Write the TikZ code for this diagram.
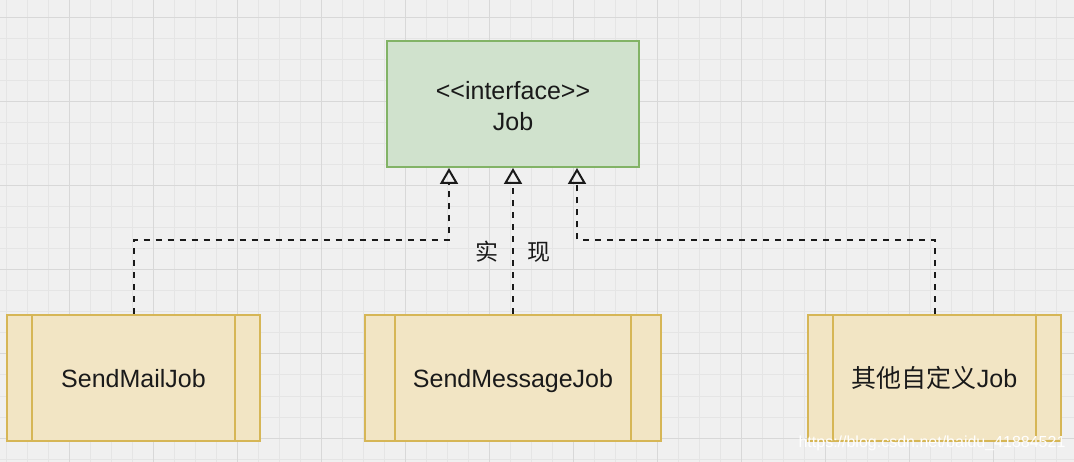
\documentclass[tikz,border=0pt]{standalone}
\usepackage{fontspec}
\setmainfont{Liberation Sans}[Ligatures=NoCommon]
\newfontfamily\cjk{Noto Sans CJK SC}
\usetikzlibrary{arrows.meta,calc}
\definecolor{bgc}{RGB}{240,240,240}
\definecolor{gridminor}{RGB}{229,229,229}
\definecolor{gridmajor}{RGB}{216,216,216}
\definecolor{ifill}{RGB}{208,226,205}
\definecolor{istroke}{RGB}{130,179,102}
\definecolor{pfill}{RGB}{242,229,196}
\definecolor{pstroke}{RGB}{214,182,86}
\definecolor{ink}{RGB}{26,26,26}
\tikzset{
  minorline/.style={gridminor, line width=1pt},
  majorline/.style={gridmajor, line width=1pt},
  ifacebox/.style={draw=istroke, fill=ifill, line width=2pt, minimum width=252pt, minimum height=126pt, inner sep=0pt, align=center, text=ink, font=\fontsize{25}{31}\selectfont},
  procbox/.style={draw=pstroke, fill=pfill, line width=2pt, minimum height=126pt, inner sep=0pt, text=ink, text height=20pt, text depth=0pt, font=\fontsize{25}{31}\selectfont,
    path picture={
      \draw[pstroke, line width=2pt]
        ($(path picture bounding box.north west)!0.1!(path picture bounding box.north east)$) --
        ($(path picture bounding box.south west)!0.1!(path picture bounding box.south east)$)
        ($(path picture bounding box.north west)!0.9!(path picture bounding box.north east)$) --
        ($(path picture bounding box.south west)!0.9!(path picture bounding box.south east)$);
    }},
  realize/.style={ink, line width=2pt, dash pattern=on 6pt off 6pt, -{Triangle[open, length=16pt, width=18pt, line width=2pt]}},
  lbl/.style={text=ink, inner sep=0pt, font=\fontsize{23}{28}\selectfont\cjk},
  wmark/.style={text=white, inner sep=0pt, font=\fontsize{16}{19}\selectfont}
}
\begin{document}
\begin{tikzpicture}[x=1pt, y=-1pt]
\useasboundingbox (0,0) rectangle (1074,462);
\fill[bgc] (0,0) rectangle (1074,462);
\foreach \x in {6,27,...,1074} \draw[minorline] (\x,0) -- (\x,462);
\foreach \y in {18,39,...,462} \draw[minorline] (0,\y) -- (1074,\y);
\foreach \x in {69,153,...,1074} \draw[majorline] (\x,0) -- (\x,462);
\foreach \y in {18,102,...,462} \draw[majorline] (0,\y) -- (1074,\y);

\node[ifacebox] (job) at (513,104) {\rule{0pt}{22pt}<{}<interface>{}>\\Job};
\node[procbox, minimum width=253pt] (mail) at (133.5,378) {SendMailJob};
\node[procbox, minimum width=296pt] (msg) at (513,378) {SendMessageJob};
\node[procbox, minimum width=253pt] (other) at (934.5,378) {{\cjk 其他自定义}Job};

\draw[realize] (mail.north) -- ++(0,-74) -| ([xshift=63pt]job.south west);
\draw[realize] (msg.north) -- (job.south);
\draw[realize] (other.north) -- ++(0,-74) -| ([xshift=-63pt]job.south east);

\node[lbl] (impl) at (513,252) {实\hspace{30pt}现};
\node[wmark] (wm) at (932,443) {https://blog.csdn.net/baidu\_41884521};
\end{tikzpicture}
\end{document}
